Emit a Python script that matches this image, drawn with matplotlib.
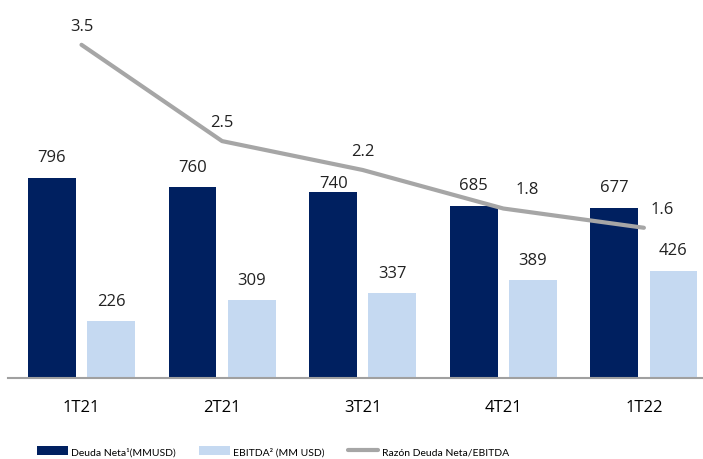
import matplotlib.pyplot as plt
import numpy as np

quarters = ["1T21", "2T21", "3T21", "4T21", "1T22"]
deuda_neta = [796, 760, 740, 685, 677]
ebitda = [226, 309, 337, 389, 426]
razon = [3.5, 2.5, 2.2, 1.8, 1.6]

dark = "#002060"
light = "#C5D9F1"
grey = "#A6A6A6"

plt.rcParams['font.family'] = ['Open Sans', 'DejaVu Sans']

fig = plt.figure(figsize=(7.03, 4.60), dpi=100)
# axes in pixel terms: left 8, right 703, bottom 81 (from bottom), top 450
ax = fig.add_axes([8 / 703, 81 / 460, 695 / 703, 369 / 460])
ax2 = ax.twinx()

x = np.arange(len(quarters))
w = 0.34
off = 0.21

b1 = ax.bar(x - off, deuda_neta, w, color=dark, label="Deuda Neta¹(MMUSD)")
b2 = ax.bar(x + off, ebitda, w, color=light, label="EBITDA² (MM USD)")

bar_dy = [9, 9, 1, 9, 9]
for xi, v, dy in zip(x, deuda_neta, bar_dy):
    ax.annotate(str(v), (xi - off, v), xytext=(0, dy), textcoords="offset points",
                ha="center", va="bottom", fontsize=12, color="#222222")
for xi, v in zip(x, ebitda):
    ax.annotate(str(v), (xi + off, v), xytext=(0, 9), textcoords="offset points",
                ha="center", va="bottom", fontsize=12, color="#222222")

ln, = ax2.plot(x, razon, color=grey, lw=3, solid_capstyle="round",
               label="Razón Deuda Neta/EBITDA")
label_dx = [0, 0, 0, 17, 13]
for xi, v, dx in zip(x, razon, label_dx):
    ax2.annotate(f"{v:.1f}", (xi, v), xytext=(dx, 8), textcoords="offset points",
                 ha="center", va="bottom", fontsize=12, color="#222222")

ax.set_xlim((8 - 81.5) / 140.6, (703 - 81.5) / 140.6)
ax.set_ylim(0, 369 / 0.2513)
ax2.set_ylim(0.04, 0.04 + 369 / 96.3)

ax.set_xticks(x)
ax.set_xticklabels(quarters, fontsize=12)
ax.tick_params(axis="x", length=0, pad=15)
ax.set_yticks([])
ax2.set_yticks([])
for a in (ax, ax2):
    for s in ("top", "right", "left", "bottom"):
        a.spines[s].set_visible(False)
ax.spines["bottom"].set_visible(True)
ax.spines["bottom"].set_color("#A0A0A0")
ax.spines["bottom"].set_linewidth(1.5)

fig.legend(handles=[b1, b2, ln], loc="center left", bbox_to_anchor=(28 / 703, 1 - 452 / 460),
           ncol=3, frameon=False, prop={"family": "Lato", "size": 7.5},
           handlelength=2.9, columnspacing=2.3, handletextpad=0.3, handleheight=1.0)

fig.savefig("out.png", dpi=100)
